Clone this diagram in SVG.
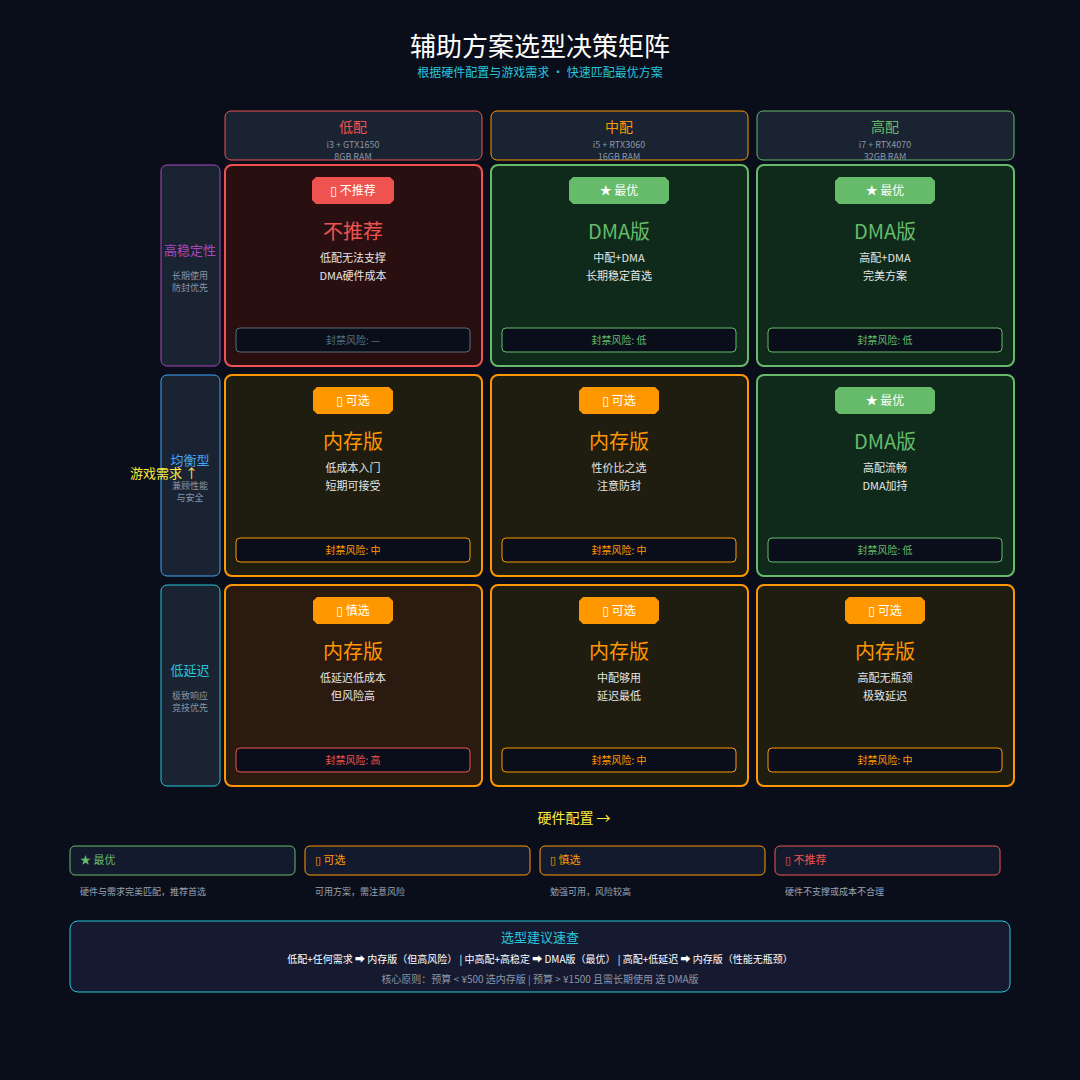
<svg xmlns="http://www.w3.org/2000/svg" width="1080" height="1080" viewBox="0 0 1080 1080">
<style>
text{font-family:"Noto Sans CJK SC","Noto Sans",sans-serif;text-anchor:middle}
.hd{fill:#1a2332;stroke-width:1}
.sub{font-size:9px;fill:#8a96a8}
.cell{stroke-width:2}
.bt{font-size:12px;fill:#fff}
.ti{font-size:20px}
.ln{font-size:11px;fill:#e6e6e6}
.rk{fill:#0a0e1a;stroke-width:1}
.rt{font-size:10px}
.lg{fill:#141a2e;stroke-width:1}
.ls{font-size:11px;text-anchor:start}
.ld{font-size:9px;fill:#9aa3b2;text-anchor:start}
.tf{font-family:"DejaVu Sans",sans-serif}
</style>
<rect width="1080" height="1080" fill="#0a0e1a"/>
<text x="540" y="56" font-size="26" fill="#fff">辅助方案选型决策矩阵</text>
<text x="540" y="77" font-size="12" fill="#26c6da">根据硬件配置与游戏需求 · 快速匹配最优方案</text>

<g id="col-low"><rect class="hd" x="225" y="111" width="257" height="49" rx="6" stroke="#ef5350"/><text x="353" y="132" font-size="14" fill="#ef5350">低配</text><text class="sub" x="353" y="148">i3 + GTX1650</text><text class="sub" x="353" y="160">8GB RAM</text></g>
<g id="col-mid"><rect class="hd" x="491" y="111" width="257" height="49" rx="6" stroke="#ff9800"/><text x="619" y="132" font-size="14" fill="#ff9800">中配</text><text class="sub" x="619" y="148">i5 + RTX3060</text><text class="sub" x="619" y="160">16GB RAM</text></g>
<g id="col-high"><rect class="hd" x="757" y="111" width="257" height="49" rx="6" stroke="#66bb6a"/><text x="885" y="132" font-size="14" fill="#66bb6a">高配</text><text class="sub" x="885" y="148">i7 + RTX4070</text><text class="sub" x="885" y="160">32GB RAM</text></g>

<g id="row-stable"><rect class="hd" x="161" y="165" width="59" height="201" rx="6" stroke="#ab47bc"/><text x="190" y="255" font-size="13" fill="#ab47bc">高稳定性</text><text class="sub" x="190" y="279">长期使用</text><text class="sub" x="190" y="291">防封优先</text></g>
<g id="row-balance"><rect class="hd" x="161" y="375" width="59" height="201" rx="6" stroke="#42a5f5"/><text x="190" y="465" font-size="13" fill="#42a5f5">均衡型</text><text class="sub" x="190" y="489">兼顾性能</text><text class="sub" x="190" y="501">与安全</text></g>
<g id="row-latency"><rect class="hd" x="161" y="585" width="59" height="201" rx="6" stroke="#26c6da"/><text x="190" y="675" font-size="13" fill="#26c6da">低延迟</text><text class="sub" x="190" y="699">极致响应</text><text class="sub" x="190" y="711">竞技优先</text></g>

<g id="cell-1-1"><rect class="cell" x="225" y="165" width="257" height="201" rx="7" fill="#2a0f10" stroke="#ef5350"/><polygon points="316,177 390,177 394,181 394,200 390,204 316,204 312,200 312,181" fill="#ef5350"/><text class="bt" x="353" y="195"><tspan class="tf">▯</tspan> 不推荐</text><text class="ti" x="353" y="239" fill="#ef5350">不推荐</text><text class="ln" x="353" y="262">低配无法支撑</text><text class="ln" x="353" y="280">DMA硬件成本</text><rect class="rk" x="236" y="328" width="234" height="24" rx="4" stroke="#546e7a"/><text class="rt" x="353" y="344" fill="#546e7a">封禁风险: —</text></g>
<g id="cell-1-2"><rect class="cell" x="491" y="165" width="257" height="201" rx="7" fill="#0f2a1a" stroke="#66bb6a"/><polygon points="573,177 665,177 669,181 669,200 665,204 573,204 569,200 569,181" fill="#66bb6a"/><text class="bt" x="619" y="195">★ 最优</text><text class="ti" x="619" y="239" fill="#66bb6a">DMA版</text><text class="ln" x="619" y="262">中配+DMA</text><text class="ln" x="619" y="280">长期稳定首选</text><rect class="rk" x="502" y="328" width="234" height="24" rx="4" stroke="#66bb6a"/><text class="rt" x="619" y="344" fill="#66bb6a">封禁风险: 低</text></g>
<g id="cell-1-3"><rect class="cell" x="757" y="165" width="257" height="201" rx="7" fill="#0f2a1a" stroke="#66bb6a"/><polygon points="839,177 931,177 935,181 935,200 931,204 839,204 835,200 835,181" fill="#66bb6a"/><text class="bt" x="885" y="195">★ 最优</text><text class="ti" x="885" y="239" fill="#66bb6a">DMA版</text><text class="ln" x="885" y="262">高配+DMA</text><text class="ln" x="885" y="280">完美方案</text><rect class="rk" x="768" y="328" width="234" height="24" rx="4" stroke="#66bb6a"/><text class="rt" x="885" y="344" fill="#66bb6a">封禁风险: 低</text></g>

<g id="cell-2-1"><rect class="cell" x="225" y="375" width="257" height="201" rx="7" fill="#1e1d0f" stroke="#ff9800"/><polygon points="317,387 389,387 393,391 393,410 389,414 317,414 313,410 313,391" fill="#ff9800"/><text class="bt" x="353" y="405"><tspan class="tf">▯</tspan> 可选</text><text class="ti" x="353" y="449" fill="#ff9800">内存版</text><text class="ln" x="353" y="472">低成本入门</text><text class="ln" x="353" y="490">短期可接受</text><rect class="rk" x="236" y="538" width="234" height="24" rx="4" stroke="#ff9800"/><text class="rt" x="353" y="554" fill="#ff9800">封禁风险: 中</text></g>
<g id="cell-2-2"><rect class="cell" x="491" y="375" width="257" height="201" rx="7" fill="#1e1d0f" stroke="#ff9800"/><polygon points="583,387 655,387 659,391 659,410 655,414 583,414 579,410 579,391" fill="#ff9800"/><text class="bt" x="619" y="405"><tspan class="tf">▯</tspan> 可选</text><text class="ti" x="619" y="449" fill="#ff9800">内存版</text><text class="ln" x="619" y="472">性价比之选</text><text class="ln" x="619" y="490">注意防封</text><rect class="rk" x="502" y="538" width="234" height="24" rx="4" stroke="#ff9800"/><text class="rt" x="619" y="554" fill="#ff9800">封禁风险: 中</text></g>
<g id="cell-2-3"><rect class="cell" x="757" y="375" width="257" height="201" rx="7" fill="#0f2a1a" stroke="#66bb6a"/><polygon points="839,387 931,387 935,391 935,410 931,414 839,414 835,410 835,391" fill="#66bb6a"/><text class="bt" x="885" y="405">★ 最优</text><text class="ti" x="885" y="449" fill="#66bb6a">DMA版</text><text class="ln" x="885" y="472">高配流畅</text><text class="ln" x="885" y="490">DMA加持</text><rect class="rk" x="768" y="538" width="234" height="24" rx="4" stroke="#66bb6a"/><text class="rt" x="885" y="554" fill="#66bb6a">封禁风险: 低</text></g>

<g id="cell-3-1"><rect class="cell" x="225" y="585" width="257" height="201" rx="7" fill="#2a1a0f" stroke="#ff9800"/><polygon points="317,597 389,597 393,601 393,620 389,624 317,624 313,620 313,601" fill="#ff9800"/><text class="bt" x="353" y="615"><tspan class="tf">▯</tspan> 慎选</text><text class="ti" x="353" y="659" fill="#ff9800">内存版</text><text class="ln" x="353" y="682">低延迟低成本</text><text class="ln" x="353" y="700">但风险高</text><rect class="rk" x="236" y="748" width="234" height="24" rx="4" stroke="#ef5350"/><text class="rt" x="353" y="764" fill="#ef5350">封禁风险: 高</text></g>
<g id="cell-3-2"><rect class="cell" x="491" y="585" width="257" height="201" rx="7" fill="#1e1d0f" stroke="#ff9800"/><polygon points="583,597 655,597 659,601 659,620 655,624 583,624 579,620 579,601" fill="#ff9800"/><text class="bt" x="619" y="615"><tspan class="tf">▯</tspan> 可选</text><text class="ti" x="619" y="659" fill="#ff9800">内存版</text><text class="ln" x="619" y="682">中配够用</text><text class="ln" x="619" y="700">延迟最低</text><rect class="rk" x="502" y="748" width="234" height="24" rx="4" stroke="#ff9800"/><text class="rt" x="619" y="764" fill="#ff9800">封禁风险: 中</text></g>
<g id="cell-3-3"><rect class="cell" x="757" y="585" width="257" height="201" rx="7" fill="#1e1d0f" stroke="#ff9800"/><polygon points="849,597 921,597 925,601 925,620 921,624 849,624 845,620 845,601" fill="#ff9800"/><text class="bt" x="885" y="615"><tspan class="tf">▯</tspan> 可选</text><text class="ti" x="885" y="659" fill="#ff9800">内存版</text><text class="ln" x="885" y="682">高配无瓶颈</text><text class="ln" x="885" y="700">极致延迟</text><rect class="rk" x="768" y="748" width="234" height="24" rx="4" stroke="#ff9800"/><text class="rt" x="885" y="764" fill="#ff9800">封禁风险: 中</text></g>

<g id="axes">
<text x="164" y="478" font-size="13" fill="#ffeb3b">游戏需求 ↑</text>
<text x="574" y="823" font-size="14" fill="#ffeb3b">硬件配置 →</text>
</g>

<g id="legend">
<rect class="lg" x="70" y="846" width="225" height="29" rx="5" stroke="#66bb6a"/><text class="ls" x="80" y="864" fill="#66bb6a">★ 最优</text><text class="ld" x="80" y="895">硬件与需求完美匹配，推荐首选</text>
<rect class="lg" x="305" y="846" width="225" height="29" rx="5" stroke="#ff9800"/><text class="ls" x="315" y="864" fill="#ff9800"><tspan class="tf">▯</tspan> 可选</text><text class="ld" x="315" y="895">可用方案，需注意风险</text>
<rect class="lg" x="540" y="846" width="225" height="29" rx="5" stroke="#ff9800"/><text class="ls" x="550" y="864" fill="#ff9800"><tspan class="tf">▯</tspan> 慎选</text><text class="ld" x="550" y="895">勉强可用，风险较高</text>
<rect class="lg" x="775" y="846" width="225" height="29" rx="5" stroke="#ef5350"/><text class="ls" x="785" y="864" fill="#ef5350"><tspan class="tf">▯</tspan> 不推荐</text><text class="ld" x="785" y="895">硬件不支撑或成本不合理</text>
</g>

<g id="summary">
<rect x="70" y="921" width="940" height="71" rx="8" fill="#161a30" stroke="#26c6da"/>
<text x="540" y="942" font-size="13" fill="#26c6da">选型建议速查</text>
<text x="540" y="963" font-size="10" fill="#fff">低配+任何需求 ➡ 内存版（但高风险） | 中高配+高稳定 ➡ DMA版（最优） | 高配+低延迟 ➡ 内存版（性能无瓶颈）</text>
<text x="540" y="983" font-size="10" fill="#8a96a8">核心原则：预算 &lt; ¥500 选内存版 | 预算 &gt; ¥1500 且需长期使用 选 DMA版</text>
</g>
</svg>
